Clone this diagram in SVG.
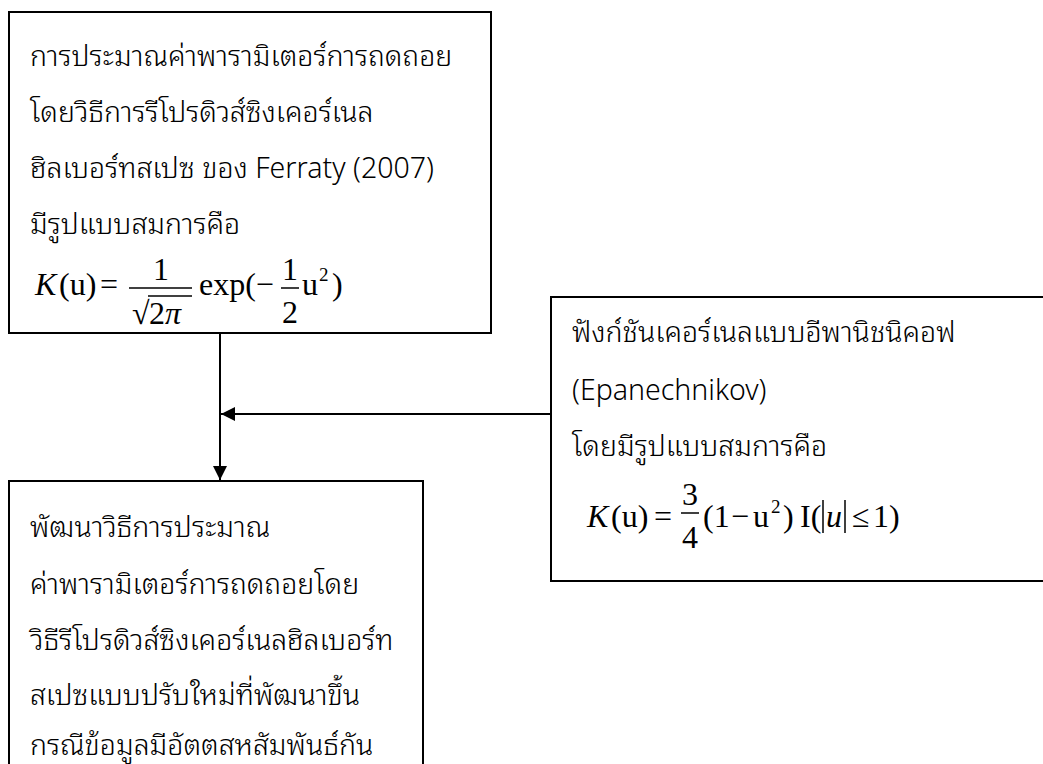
<svg xmlns="http://www.w3.org/2000/svg" width="1043" height="764" viewBox="0 0 1043 764">
  <style>
    .box { fill: #ffffff; stroke: #000000; stroke-width: 2; }
    .th { font-family: "Noto Sans Thai Looped", "Noto Sans Thai", "Leelawadee UI", Tahoma, "Noto Sans", sans-serif; font-size: 28.5px; font-weight: 300; fill: #000000; }
    .m { font-family: "Liberation Serif", "Times New Roman", serif; font-size: 32px; fill: #000000; }
    .mi { font-style: italic; }
    .sup { font-family: "Liberation Serif", "Times New Roman", serif; font-size: 19px; fill: #000000; }
    .bar { stroke: #000000; stroke-width: 1.5; }
    .wire { fill: none; stroke: #000000; stroke-width: 2; }
  </style>
  <defs>
    <marker id="head" viewBox="0 0 14 14" refX="14" refY="7" markerWidth="14" markerHeight="14" markerUnits="userSpaceOnUse" orient="auto">
      <path d="M0,0 L14,7 L0,14 Z" fill="#000000"/>
    </marker>
  </defs>

  <rect width="1043" height="764" fill="#ffffff"/>

  <!-- Gaussian kernel estimator -->
  <g id="node-gaussian">
    <rect class="box" x="9" y="12" width="482" height="321"/>
    <text class="th" x="30" y="66">การประมาณค่าพารามิเตอร์การถดถอย</text>
    <text class="th" x="30" y="122">โดยวิธีการรีโปรดิวส์ซิงเคอร์เนล</text>
    <text class="th" x="30" y="178">ฮิลเบอร์ทสเปซ ของ Ferraty (2007)</text>
    <text class="th" x="30" y="234">มีรูปแบบสมการคือ</text>
    <text class="m" y="295"><tspan class="mi" x="35">K</tspan><tspan x="59">(u)</tspan><tspan x="100">=</tspan></text>
    <text class="m" x="161" y="280" text-anchor="middle">1</text>
    <line class="bar" x1="129" y1="288" x2="192" y2="288"/>
    <text class="m" x="132" y="324">√</text>
    <line class="bar" x1="148" y1="296" x2="192" y2="296"/>
    <text class="m" x="149" y="324">2<tspan class="mi">π</tspan></text>
    <text class="m" x="199" y="295">exp(−</text>
    <text class="m" x="290" y="280" text-anchor="middle">1</text>
    <line class="bar" x1="281" y1="288" x2="299" y2="288"/>
    <text class="m" x="290" y="323" text-anchor="middle">2</text>
    <text class="m" x="302" y="295">u</text>
    <text class="sup" x="319" y="281">2</text>
    <text class="m" x="332" y="295">)</text>
  </g>

  <!-- Epanechnikov kernel -->
  <g id="node-epanechnikov">
    <rect class="box" x="551" y="297" width="500" height="284"/>
    <text class="th" x="572" y="342">ฟังก์ชันเคอร์เนลแบบอีพานิชนิคอฟ</text>
    <text class="th" x="572" y="400">(Epanechnikov)</text>
    <text class="th" x="572" y="456">โดยมีรูปแบบสมการคือ</text>
    <text class="m" y="527"><tspan class="mi" x="587">K</tspan><tspan x="611">(u)</tspan><tspan x="654">=</tspan></text>
    <text class="m" x="690" y="505" text-anchor="middle">3</text>
    <line class="bar" x1="681" y1="513" x2="699" y2="513"/>
    <text class="m" x="690" y="548" text-anchor="middle">4</text>
    <text class="m" y="527"><tspan x="703">(1</tspan><tspan x="731">−</tspan><tspan x="753">u</tspan></text>
    <text class="sup" x="771" y="513">2</text>
    <text class="m" y="527"><tspan x="783">)</tspan><tspan x="800">I(</tspan></text>
    <line class="bar" x1="823" y1="500" x2="823" y2="533"/>
    <text class="m mi" x="826" y="527">u</text>
    <line class="bar" x1="845" y1="500" x2="845" y2="533"/>
    <text class="m" y="527"><tspan x="852">≤</tspan><tspan x="873">1)</tspan></text>
  </g>

  <!-- Proposed method -->
  <g id="node-proposed">
    <rect class="box" x="9" y="481" width="414" height="300"/>
    <text class="th" x="30" y="537">พัฒนาวิธีการประมาณ</text>
    <text class="th" x="30" y="594">ค่าพารามิเตอร์การถดถอยโดย</text>
    <text class="th" x="30" y="650">วิธีรีโปรดิวส์ซิงเคอร์เนลฮิลเบอร์ท</text>
    <text class="th" x="30" y="705">สเปซแบบปรับใหม่ที่พัฒนาขึ้น</text>
    <text class="th" x="30" y="755">กรณีข้อมูลมีอัตตสหสัมพันธ์กัน</text>
  </g>

  <g id="connectors">
    <line class="wire" x1="220" y1="333" x2="220" y2="480" marker-end="url(#head)"/>
    <line class="wire" x1="551" y1="414" x2="221" y2="414" marker-end="url(#head)"/>
  </g>
</svg>
